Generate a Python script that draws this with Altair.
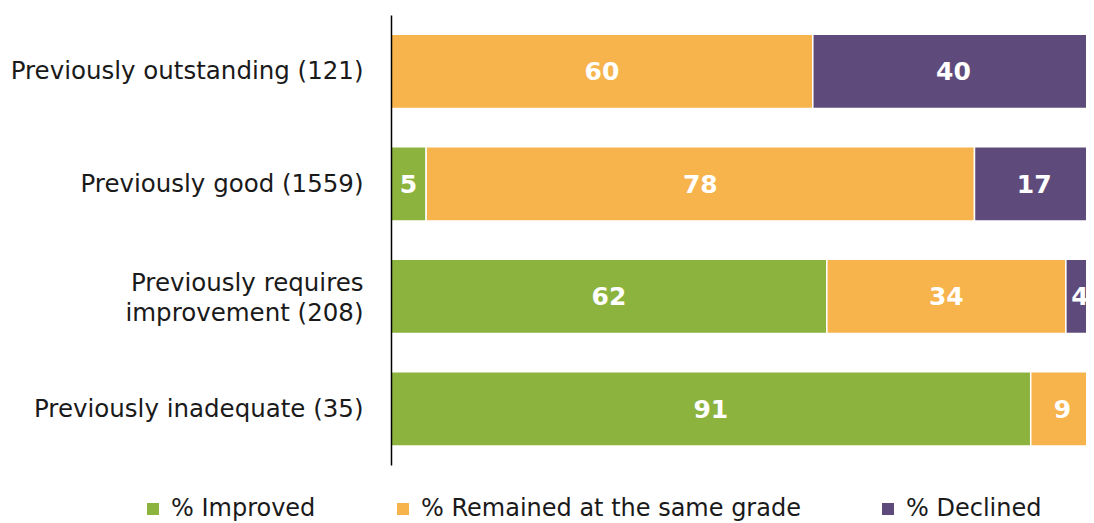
import altair as alt
import pandas as pd

categories = ["Previously outstanding (121)", "Previously good (1559)",
              "Previously requires improvement (208)", "Previously inadequate (35)"]
series = ["% Improved", "% Remained at the same grade", "% Declined"]
improved = [0, 5, 62, 91]
remained = [60, 78, 34, 9]
declined = [40, 17, 4, 0]
colors = ["#8DB33F", "#F7B34C", "#5F4B7B"]

rows = []
for i, c in enumerate(categories):
    for j, (s, vals) in enumerate(zip(series, [improved, remained, declined])):
        rows.append({"category": c, "series": s, "order": j, "value": vals[i]})
df = pd.DataFrame(rows)

FONT = "DejaVu Sans"
TWO = "Previously requires improvement (208)"

base = alt.Chart(df).transform_stack(
    stack="value", groupby=["category"], as_=["x0", "x1"],
    sort=[alt.SortField("order", order="ascending")]
).transform_calculate(mid="(datum.x0 + datum.x1) / 2")

yenc = alt.Y("category:N", sort=categories, title=None,
             scale=alt.Scale(paddingInner=0.34, paddingOuter=0.17),
             axis=alt.Axis(labelExpr=f"datum.label == '{TWO}' ? ['Previously requires', 'improvement (208)'] : datum.label",
                           labelFont=FONT, labelFontSize=24.5, labelColor="#1a1a1a",
                           labelPadding=28, ticks=False, domainColor="#000000",
                           domainWidth=1.5, labelLimit=400, labelLineHeight=30,
                           zindex=1,
                           labelOffset={"condition": {"test": f"datum.value == '{TWO}'", "value": -12}, "value": 1}))

xscale = alt.Scale(domain=[0, 100 * 695 / 703], nice=False, zero=True)

bars = base.mark_bar(stroke="white", strokeWidth=1.5, clip=True).encode(
    x=alt.X("x0:Q", scale=xscale, axis=None),
    x2="x1:Q",
    y=yenc,
    color=alt.Color("series:N", sort=series,
                    scale=alt.Scale(domain=series, range=colors),
                    legend=alt.Legend(title=None, orient="none", direction="horizontal",
                                      legendX=-250, legendY=482,
                                      symbolType="square", symbolSize=144,
                                      symbolStrokeWidth=0,
                                      labelFont=FONT, labelFontSize=24,
                                      labelLimit=600,
                                      labelColor="#1a1a1a", columnPadding=75,
                                      labelOffset=6)),
)

labels = base.transform_filter("datum.value > 0").mark_text(
    color="white", font=FONT, fontWeight="bold", fontSize=25, clip=True, dy=1
).encode(
    x=alt.X("mid:Q", scale=xscale),
    y=alt.Y("category:N", sort=categories),
    text="value:Q",
)

chart = alt.layer(bars, labels).properties(
    width=695, height=450,
    autosize=alt.AutoSizeParams(type="none"),
    padding={"left": 383, "top": 7, "right": 0, "bottom": 58},
).configure_view(stroke=None)

chart.save("out.html", embed_options={"renderer": "svg", "actions": False})
